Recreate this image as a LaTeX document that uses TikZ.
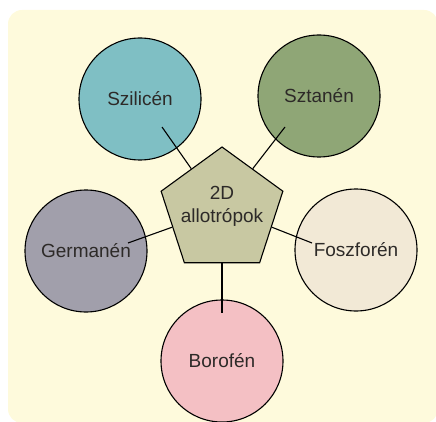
\documentclass[tikz,border=0pt]{standalone}
\usepackage{fontspec}
\setmainfont{Liberation Sans}
\usepackage{tikz}
\usetikzlibrary{shapes.geometric,positioning}
\usepackage{xcolor}

\definecolor{bgyellow}{RGB}{254,250,220}
\definecolor{szilcol}{RGB}{127,191,196}
\definecolor{sztancol}{RGB}{143,166,118}
\definecolor{germcol}{RGB}{161,159,171}
\definecolor{foszcol}{RGB}{242,233,214}
\definecolor{borocol}{RGB}{244,192,196}
\definecolor{pentcol}{RGB}{200,200,162}
\definecolor{txtcol}{RGB}{45,42,40}

\begin{document}
\begin{tikzpicture}[x=1pt,y=1pt,
    allotrop/.style={circle,draw=black,line width=1.1pt,minimum size=122pt,inner sep=0pt,text=txtcol,font=\fontsize{19}{23}\selectfont},
    center/.style={regular polygon,regular polygon sides=5,draw=black,line width=1.1pt,fill=pentcol,minimum size=128pt,inner sep=0pt},
    centertext/.style={align=center,text=txtcol,font=\fontsize{19}{23}\selectfont,yshift=5pt},
    link/.style={line width=1.1pt}]
    \useasboundingbox (0,0) rectangle (436,421);
    % Background
    \fill[bgyellow, rounded corners=14pt] (8,-2) rectangle (438,411);

    % Allotrope circles
    \node[allotrop, fill=szilcol]  (szil)  at (140,322) {Szilicén};
    \node[allotrop, fill=sztancol] (sztan) at (319,325) {Sztanén};
    \node[allotrop, fill=germcol]  (germ)  at (86,170)  {Germanén};
    \node[allotrop, fill=foszcol]  (fosz)  at (356,171) {Foszforén};
    \node[allotrop, fill=borocol]  (boro)  at (222,60)  {Borofén};

    % Central pentagon
    \node[center, label={[centertext]center:2D\\allotrópok}] (pent) at (222,210) {};

    % Line ends inside the circles
    \coordinate (szil-end)  at (162,294);
    \coordinate (sztan-end) at (285,294);
    \coordinate (germ-end)  at (128,178);
    \coordinate (fosz-end)  at (312,178);
    \coordinate (boro-end)  at (222,108);

    % Connectors
    \draw[link] (pent.126) -- (szil-end);
    \draw[link] (pent.54)  -- (sztan-end);
    \draw[link] (pent.198) -- (germ-end);
    \draw[link] (pent.-18) -- (fosz-end);
    \draw[link] (pent.270) -- (boro-end);
\end{tikzpicture}
\end{document}
